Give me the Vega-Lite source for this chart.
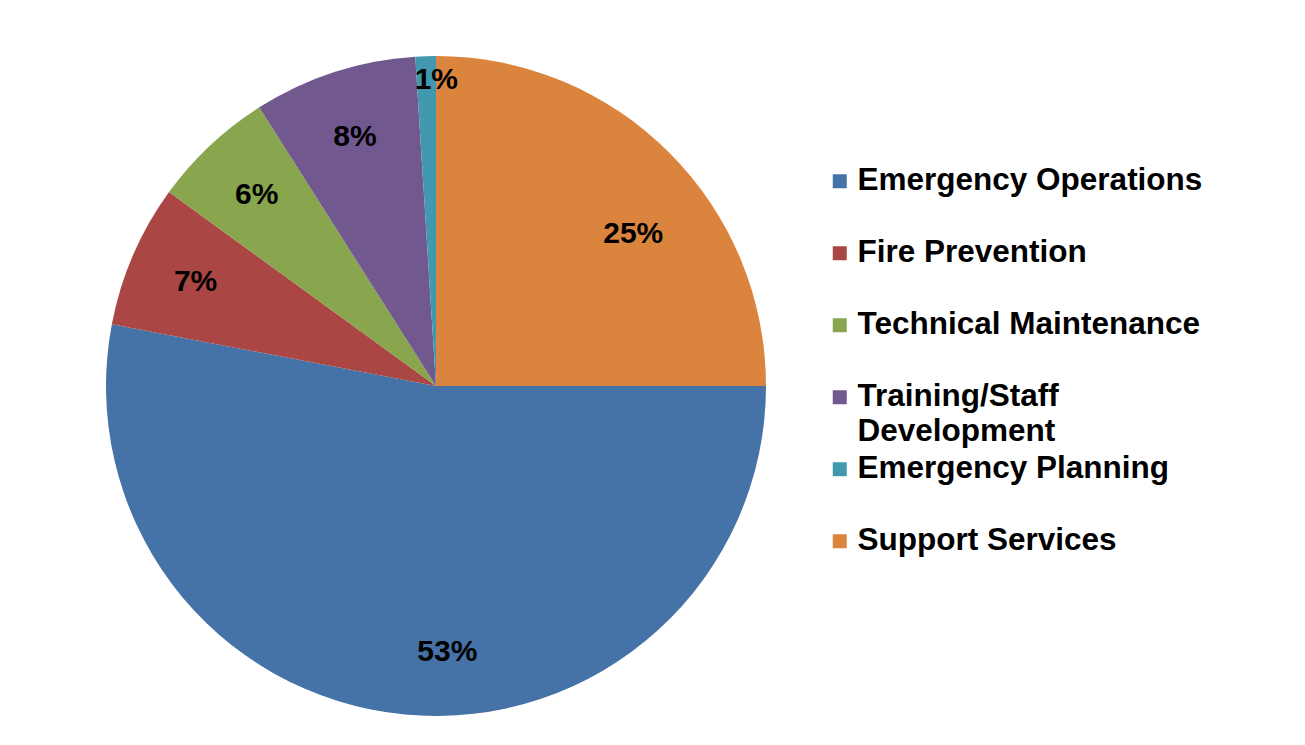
{
  "$schema": "https://vega.github.io/schema/vega-lite/v6.json",
  "width": 660,
  "height": 660,
  "padding": {"left": 106, "top": 56, "right": 539, "bottom": 29},
  "autosize": {"type": "none"},
  "background": "white",
  "config": {
    "view": {"stroke": null},
    "style": {"guide-label": {"lineHeight": 35}}
  },
  "data": {
    "values": [
      {"category": "Emergency Operations", "value": 53, "label": "53%", "rank": 1},
      {"category": "Fire Prevention", "value": 7, "label": "7%", "rank": 2},
      {"category": "Technical Maintenance", "value": 6, "label": "6%", "rank": 3},
      {"category": "Training/Staff Development", "value": 8, "label": "8%", "rank": 4},
      {"category": "Emergency Planning", "value": 1, "label": "1%", "rank": 5},
      {"category": "Support Services", "value": 25, "label": "25%", "rank": 6}
    ]
  },
  "encoding": {
    "theta": {"field": "value", "type": "quantitative", "stack": true, "scale": {"range": [1.5708, 7.854]}},
    "order": {"field": "rank", "type": "quantitative"}
  },
  "layer": [
    {
      "mark": {"type": "arc", "stroke": null},
      "encoding": {
        "color": {
          "field": "category",
          "type": "nominal",
          "scale": {
            "domain": ["Emergency Operations", "Fire Prevention", "Technical Maintenance", "Training/Staff Development", "Emergency Planning", "Support Services"],
            "range": ["#4572A7", "#AA4643", "#89A54E", "#71588F", "#4198AF", "#DB843D"]
          },
          "legend": {
            "title": null,
            "orient": "none",
            "legendX": 718,
            "legendY": 109.5,
            "symbolType": "square",
            "symbolSize": 196,
            "symbolStrokeWidth": 0,
            "labelFont": "Liberation Sans",
            "labelFontSize": 31.5,
            "labelFontWeight": "bold",
            "labelColor": "black",
            "labelLimit": 500,
            "labelOffset": 2,
            "rowPadding": 4,
            "gridAlign": "all",
            "labelExpr": "datum.label == 'Training/Staff Development' ? ['Training/Staff', 'Development'] : datum.label"
          }
        }
      }
    },
    {
      "mark": {"type": "text", "radius": 262, "font": "Liberation Sans", "fontSize": 30, "fontWeight": "bold", "color": "black"},
      "encoding": {
        "text": {"condition": {"test": "datum.value >= 6 && datum.value <= 8", "field": "label"}, "value": ""}
      }
    },
    {
      "mark": {"type": "text", "radius": 262, "dx": 36, "dy": 5, "font": "Liberation Sans", "fontSize": 30, "fontWeight": "bold", "color": "black"},
      "encoding": {
        "text": {"condition": {"test": "datum.value == 53", "field": "label"}, "value": ""}
      }
    },
    {
      "mark": {"type": "text", "radius": 262, "dx": 12, "dy": 33, "font": "Liberation Sans", "fontSize": 30, "fontWeight": "bold", "color": "black"},
      "encoding": {
        "text": {"condition": {"test": "datum.value == 25", "field": "label"}, "value": ""}
      }
    },
    {
      "mark": {"type": "text", "radius": 308, "dx": 10, "dy": 2, "font": "Liberation Sans", "fontSize": 30, "fontWeight": "bold", "color": "black"},
      "encoding": {
        "text": {"condition": {"test": "datum.value == 1", "field": "label"}, "value": ""}
      }
    }
  ]
}
